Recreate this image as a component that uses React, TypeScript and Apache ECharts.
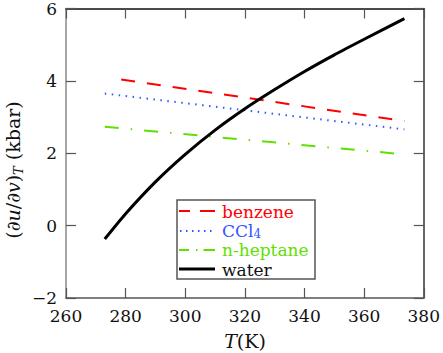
import React, { useEffect, useRef } from "react";
import * as echarts from "echarts";

const benzeneT = [278.5, 373.5];
const benzeneV = [4.04, 2.89];
const ccl4T = [273, 373.5];
const ccl4V = [3.65, 2.66];
const heptaneT = [273, 373.5];
const heptaneV = [2.73, 1.97];
const waterT = [273, 280, 290, 300, 310, 320, 330, 340, 350, 360, 373.5];
const waterV = [-0.37, 0.33, 1.21, 1.97, 2.64, 3.23, 3.76, 4.26, 4.72, 5.15, 5.72];

const legendNames = ["benzene", "CCl", "n-heptane", "water"];
const xMin = 260, xMax = 380, xStep = 20;
const yMin = -2, yMax = 6, yStep = 2;

const FONT = "DejaVu Serif";
const RED = "#ff0000";
const BLUE = "#3355ff";
const GREEN = "#5fe000";

const pairs = (t: number[], v: number[]) => t.map((x, i) => [x, v[i]]);
const fmt = (v: number) => String(v).replace("-", "\u2212");
const txt = (color: string, size = 18) => ({ fontFamily: FONT, fontSize: size, fill: color, color });

export default function App() {
  const ref = useRef<HTMLDivElement>(null);
  useEffect(() => {
    if (!ref.current) return;
    const chart = echarts.init(ref.current, null, { renderer: "svg" });
    const axisCommon = {
      type: "value" as const,
      splitLine: { show: false },
      axisTick: { show: true, inside: true, length: 10, lineStyle: { color: "#555", width: 1.2 } },
    };
    const labelStyle = { fontFamily: FONT, fontSize: 17, color: "#111", formatter: fmt };
    chart.setOption({
      animation: false,
      backgroundColor: "#fff",
      textStyle: { fontFamily: FONT },
      grid: { left: 66, right: 18, top: 8, bottom: 55 },
      xAxis: [
        {
          ...axisCommon,
          min: xMin, max: xMax, interval: xStep,
          axisLine: { show: true, onZero: false, lineStyle: { color: "#555", width: 1.5 } },
          axisLabel: { ...labelStyle, margin: 9 },
        },
        {
          ...axisCommon,
          position: "top",
          min: xMin, max: xMax, interval: xStep,
          axisLine: { show: true, onZero: false, lineStyle: { color: "#111", width: 1.5 } },
          axisLabel: { show: false },
        },
      ],
      yAxis: [
        {
          ...axisCommon,
          min: yMin, max: yMax, interval: yStep,
          axisLine: { show: true, onZero: false, lineStyle: { color: "#888", width: 1.5 } },
          axisLabel: { ...labelStyle, margin: 9 },
        },
        {
          ...axisCommon,
          position: "right",
          min: yMin, max: yMax, interval: yStep,
          axisLine: { show: true, onZero: false, lineStyle: { color: "#333", width: 1.5 } },
          axisLabel: { show: false },
        },
      ],
      series: [
        {
          name: legendNames[0], type: "line", showSymbol: false, data: pairs(benzeneT, benzeneV),
          lineStyle: { color: RED, width: 2, type: [14, 12] },
        },
        {
          name: legendNames[1], type: "line", showSymbol: false, data: pairs(ccl4T, ccl4V),
          lineStyle: { color: BLUE, width: 2, type: [1.5, 5.5] },
        },
        {
          name: legendNames[2], type: "line", showSymbol: false, data: pairs(heptaneT, heptaneV),
          lineStyle: { color: GREEN, width: 2, type: [14, 12, 1.5, 12] },
        },
        {
          name: legendNames[3], type: "line", showSymbol: false, smooth: 0.2, data: pairs(waterT, waterV),
          lineStyle: { color: "#000", width: 3, join: "round" },
        },
      ],
      graphic: [
        {
          type: "text",
          x: 13, y: 170, rotation: Math.PI / 2,
          style: {
            text: "(∂{i|u}/∂{i|v}){sub|T} (kbar)",
            ...txt("#111", 19),
            align: "center", verticalAlign: "middle",
            rich: {
              i: { ...txt("#111", 19), fontStyle: "italic" },
              sub: { ...txt("#111", 13), fontStyle: "italic", padding: [10, 0, 0, 0] },
            },
          },
        },
        {
          type: "text",
          x: 245, y: 341,
          style: {
            text: "{i|T}(K)",
            ...txt("#111", 19),
            align: "center", verticalAlign: "middle",
            rich: { i: { ...txt("#111", 19), fontStyle: "italic" } },
          },
        },
        {
          type: "group",
          children: [
            { type: "rect", shape: { x: 177, y: 200, width: 138, height: 79 }, style: { fill: "#fff", stroke: "#555", lineWidth: 1.5 } },
            { type: "line", shape: { x1: 179, y1: 211, x2: 215, y2: 211 }, style: { stroke: RED, lineWidth: 2, lineDash: [11, 10, 16, 10] } },
            { type: "line", shape: { x1: 180, y1: 231, x2: 215, y2: 231 }, style: { stroke: BLUE, lineWidth: 2, lineDash: [1.5, 4.5] } },
            { type: "line", shape: { x1: 179, y1: 250, x2: 215, y2: 250 }, style: { stroke: GREEN, lineWidth: 2, lineDash: [10, 7, 1.5, 6, 14, 10] } },
            { type: "line", shape: { x1: 179, y1: 269, x2: 215, y2: 269 }, style: { stroke: "#000", lineWidth: 3 } },
            { type: "text", x: 222, y: 212, style: { text: legendNames[0], ...txt(RED, 17), verticalAlign: "middle" } },
            {
              type: "text", x: 222, y: 231,
              style: {
                text: legendNames[1] + "{sub|4}", ...txt(BLUE, 17), verticalAlign: "middle",
                rich: { sub: { ...txt(BLUE, 12), lineHeight: 12, padding: [6, 0, 0, 0] } },
              },
            },
            { type: "text", x: 222, y: 250, style: { text: legendNames[2], ...txt(GREEN, 17), verticalAlign: "middle" } },
            { type: "text", x: 222, y: 270, style: { text: legendNames[3], ...txt("#111", 17), verticalAlign: "middle" } },
          ],
        },
      ],
    });
    return () => chart.dispose();
  }, []);
  return <div ref={ref} style={{ width: 443, height: 353, position: "absolute", left: 0, top: 0 }} />;
}
